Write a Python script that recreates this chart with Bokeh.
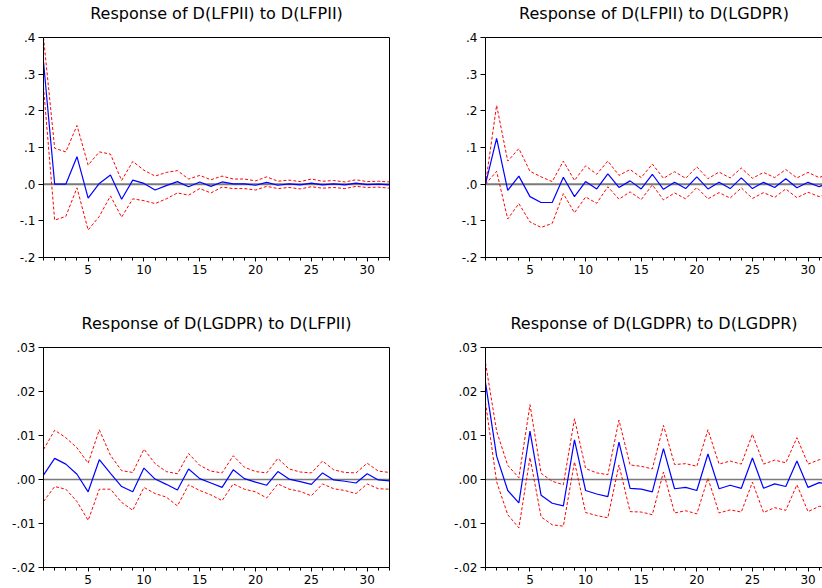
from bokeh.plotting import figure
from bokeh.models import LinearAxis, FixedTicker, CustomJSTickFormatter, Span, Range1d
from bokeh.layouts import column, row
from bokeh.embed import file_html
from bokeh.resources import INLINE

periods = list(range(1, 33))
x_tick_labels = [5, 10, 15, 20, 25, 30]
y_ticks_top = [-0.2, -0.1, 0.0, 0.1, 0.2, 0.3, 0.4]
y_ticks_bottom = [-0.02, -0.01, 0.0, 0.01, 0.02, 0.03]

title_11 = "Response of D(LFPII) to D(LFPII)"
title_12 = "Response of D(LFPII) to D(LGDPR)"
title_21 = "Response of D(LGDPR) to D(LFPII)"
title_22 = "Response of D(LGDPR) to D(LGDPR)"

# Response of D(LFPII) to D(LFPII)
resp_11 = [0.334, 0.0, 0.0, 0.075, -0.038, 0.002, 0.025, -0.041, 0.011, 0.002,
           -0.016, -0.004, 0.007, -0.007, 0.006, -0.006, 0.006, 0.001, 0.001, -0.003,
           0.005, -0.003, 0.001, -0.002, 0.003, -0.002, 0.001, -0.002, 0.003, -0.001,
           0.000, -0.002]
upper_11 = [0.400, 0.098, 0.088, 0.160, 0.052, 0.088, 0.082, 0.010, 0.062, 0.038,
            0.022, 0.032, 0.037, 0.014, 0.024, 0.012, 0.022, 0.014, 0.014, 0.009,
            0.020, 0.008, 0.011, 0.007, 0.014, 0.008, 0.010, 0.006, 0.012, 0.007,
            0.008, 0.006]
lower_11 = [0.265, -0.098, -0.088, -0.010, -0.125, -0.088, -0.032, -0.090, -0.040, -0.045,
            -0.053, -0.040, -0.024, -0.030, -0.012, -0.024, -0.008, -0.012, -0.012, -0.016,
            -0.006, -0.012, -0.009, -0.013, -0.007, -0.011, -0.009, -0.012, -0.006, -0.009,
            -0.008, -0.011]

# Response of D(LFPII) to D(LGDPR)
resp_12 = [0.0, 0.125, -0.017, 0.022, -0.034, -0.050, -0.050, 0.019, -0.034, 0.007,
           -0.013, 0.028, -0.009, 0.009, -0.013, 0.027, -0.014, 0.005, -0.012, 0.020,
           -0.013, 0.005, -0.012, 0.017, -0.012, 0.005, -0.009, 0.015, -0.010, 0.005,
           -0.007, 0.006]
upper_12 = [0.0, 0.215, 0.063, 0.097, 0.035, 0.020, 0.007, 0.063, 0.010, 0.050,
            0.027, 0.063, 0.024, 0.040, 0.018, 0.055, 0.016, 0.034, 0.016, 0.047,
            0.015, 0.033, 0.017, 0.044, 0.016, 0.032, 0.018, 0.040, 0.017, 0.032,
            0.018, 0.030]
lower_12 = [0.0, 0.035, -0.095, -0.053, -0.103, -0.118, -0.107, -0.026, -0.078, -0.035,
            -0.052, -0.007, -0.041, -0.021, -0.042, -0.002, -0.043, -0.024, -0.040, -0.009,
            -0.040, -0.023, -0.038, -0.010, -0.039, -0.023, -0.036, -0.013, -0.037, -0.022,
            -0.034, -0.022]

# Response of D(LGDPR) to D(LFPII)
resp_21 = [0.0010, 0.0048, 0.0035, 0.0012, -0.0028, 0.0045, 0.0014, -0.0016, -0.0028, 0.0026,
           0.0001, -0.0011, -0.0024, 0.0024, 0.0002, -0.0008, -0.0018, 0.0022, 0.0002, -0.0006,
           -0.0013, 0.0018, 0.0001, -0.0005, -0.0011, 0.0015, -0.0001, -0.0004, -0.0008, 0.0013,
           -0.0001, -0.0003]
upper_21 = [0.0068, 0.0112, 0.0095, 0.0072, 0.0037, 0.0113, 0.0055, 0.0020, 0.0016, 0.0069,
            0.0036, 0.0018, 0.0013, 0.0059, 0.0032, 0.0019, 0.0015, 0.0054, 0.0028, 0.0018,
            0.0015, 0.0048, 0.0024, 0.0017, 0.0015, 0.0042, 0.0022, 0.0016, 0.0015, 0.0037,
            0.0019, 0.0016]
lower_21 = [-0.0050, -0.0016, -0.0022, -0.0050, -0.0093, -0.0022, -0.0022, -0.0052, -0.0070, -0.0018,
            -0.0032, -0.0040, -0.0060, -0.0012, -0.0025, -0.0035, -0.0048, -0.0010, -0.0022, -0.0028,
            -0.0042, -0.0010, -0.0022, -0.0027, -0.0037, -0.0010, -0.0021, -0.0025, -0.0032, -0.0010,
            -0.0021, -0.0022]

# Response of D(LGDPR) to D(LGDPR)
resp_22 = [0.0220, 0.0053, -0.0025, -0.0053, 0.0110, -0.0036, -0.0054, -0.0060, 0.0090, -0.0025,
           -0.0033, -0.0039, 0.0085, -0.0020, -0.0022, -0.0028, 0.0070, -0.0021, -0.0018, -0.0025,
           0.0058, -0.0021, -0.0013, -0.0020, 0.0049, -0.0020, -0.0010, -0.0016, 0.0042, -0.0018,
           -0.0007, -0.0012]
upper_22 = [0.0265, 0.0110, 0.0032, 0.0004, 0.0170, 0.0014, -0.0004, -0.0012, 0.0138, 0.0025,
            0.0015, 0.0011, 0.0135, 0.0033, 0.0030, 0.0024, 0.0123, 0.0034, 0.0036, 0.0030,
            0.0113, 0.0035, 0.0042, 0.0035, 0.0103, 0.0035, 0.0044, 0.0038, 0.0095, 0.0035,
            0.0045, 0.0044]
lower_22 = [0.0175, -0.0005, -0.0080, -0.0110, 0.0050, -0.0085, -0.0103, -0.0106, 0.0040, -0.0075,
            -0.0082, -0.0087, 0.0033, -0.0073, -0.0074, -0.0080, 0.0017, -0.0076, -0.0071, -0.0078,
            0.0003, -0.0076, -0.0069, -0.0074, -0.0006, -0.0075, -0.0064, -0.0070, -0.0012, -0.0073,
            -0.0061, -0.0062]

FONT = "DejaVu Sans"


def make_panel(title, resp, upper, lower, yticks, digits, left_col, top_row):
    width = 450 if left_col else 372
    height = 310 if top_row else 278
    x_end = 32 if left_col else 31.3
    p = figure(width=width, height=height, output_backend="svg", toolbar_location=None,
               x_range=Range1d(1, x_end), y_range=Range1d(yticks[0], yticks[-1]),
               min_border_left=43 if left_col else 35, min_border_right=61 if left_col else 0,
               min_border_top=37, min_border_bottom=53 if top_row else 21)
    p.grid.visible = False
    p.outline_line_color = None
    p.background_fill_color = "white"
    p.border_fill_color = "white"
    p.title.visible = False

    xa = p.xaxis[0]
    xa.ticker = FixedTicker(ticks=x_tick_labels, minor_ticks=periods)
    xa.major_tick_out = 4
    xa.major_tick_in = 0
    xa.minor_tick_out = 3
    xa.minor_tick_in = 0
    xa.major_label_standoff = 3
    xa.axis_line_color = "black"
    xa.major_tick_line_color = "black"
    xa.minor_tick_line_color = "black"
    xa.major_label_text_font = FONT
    xa.major_label_text_font_size = "12px"
    xa.major_label_text_color = "black"

    ya = p.yaxis[0]
    ya.ticker = FixedTicker(ticks=yticks)
    ya.major_tick_out = 5
    ya.major_tick_in = 0
    ya.minor_tick_line_color = None
    ya.major_label_standoff = 3
    ya.axis_line_color = "black"
    ya.major_tick_line_color = "black"
    ya.major_label_text_font = FONT
    ya.major_label_text_font_size = "12px"
    ya.major_label_text_color = "black"
    ya.formatter = CustomJSTickFormatter(code=f"""
        var s = tick.toFixed({digits});
        if (Math.abs(tick) < 1e-12) {{ s = (0).toFixed({digits}); }}
        return s.replace("0.", ".");
    """)

    def border_axis(label=None):
        ax = LinearAxis(ticker=FixedTicker(ticks=[]), major_label_text_font_size="0px",
                        major_tick_out=0, major_tick_in=0, minor_tick_out=0, minor_tick_in=0,
                        major_label_standoff=0, axis_line_color="black")
        if label is not None:
            # the chart title is carried by the top border axis
            ax.axis_label = label
            ax.axis_label_text_font = FONT
            ax.axis_label_text_font_size = "16px"
            ax.axis_label_text_font_style = "normal"
            ax.axis_label_text_color = "black"
            ax.axis_label_standoff = 15
        return ax

    p.add_layout(border_axis(title), "above")
    if left_col:
        p.add_layout(border_axis(), "right")

    zero = Span(location=0, dimension="width", line_color="#7a7a7a",
                line_width=2 if top_row else 1.5, level="underlay")
    p.add_layout(zero)

    p.line(periods, upper, line_color="#ff0000", line_width=1, line_dash="3 2")
    p.line(periods, lower, line_color="#ff0000", line_width=1, line_dash="3 2")
    p.line(periods, resp, line_color="#0000ff", line_width=1.2)
    return p


p11 = make_panel(title_11, resp_11, upper_11, lower_11, y_ticks_top, 1, True, True)
p12 = make_panel(title_12, resp_12, upper_12, lower_12, y_ticks_top, 1, False, True)
p21 = make_panel(title_21, resp_21, upper_21, lower_21, y_ticks_bottom, 2, True, False)
p22 = make_panel(title_22, resp_22, upper_22, lower_22, y_ticks_bottom, 2, False, False)

layout = column(row(p11, p12), row(p21, p22))

open("out.html", "w").write(file_html(layout, INLINE))
